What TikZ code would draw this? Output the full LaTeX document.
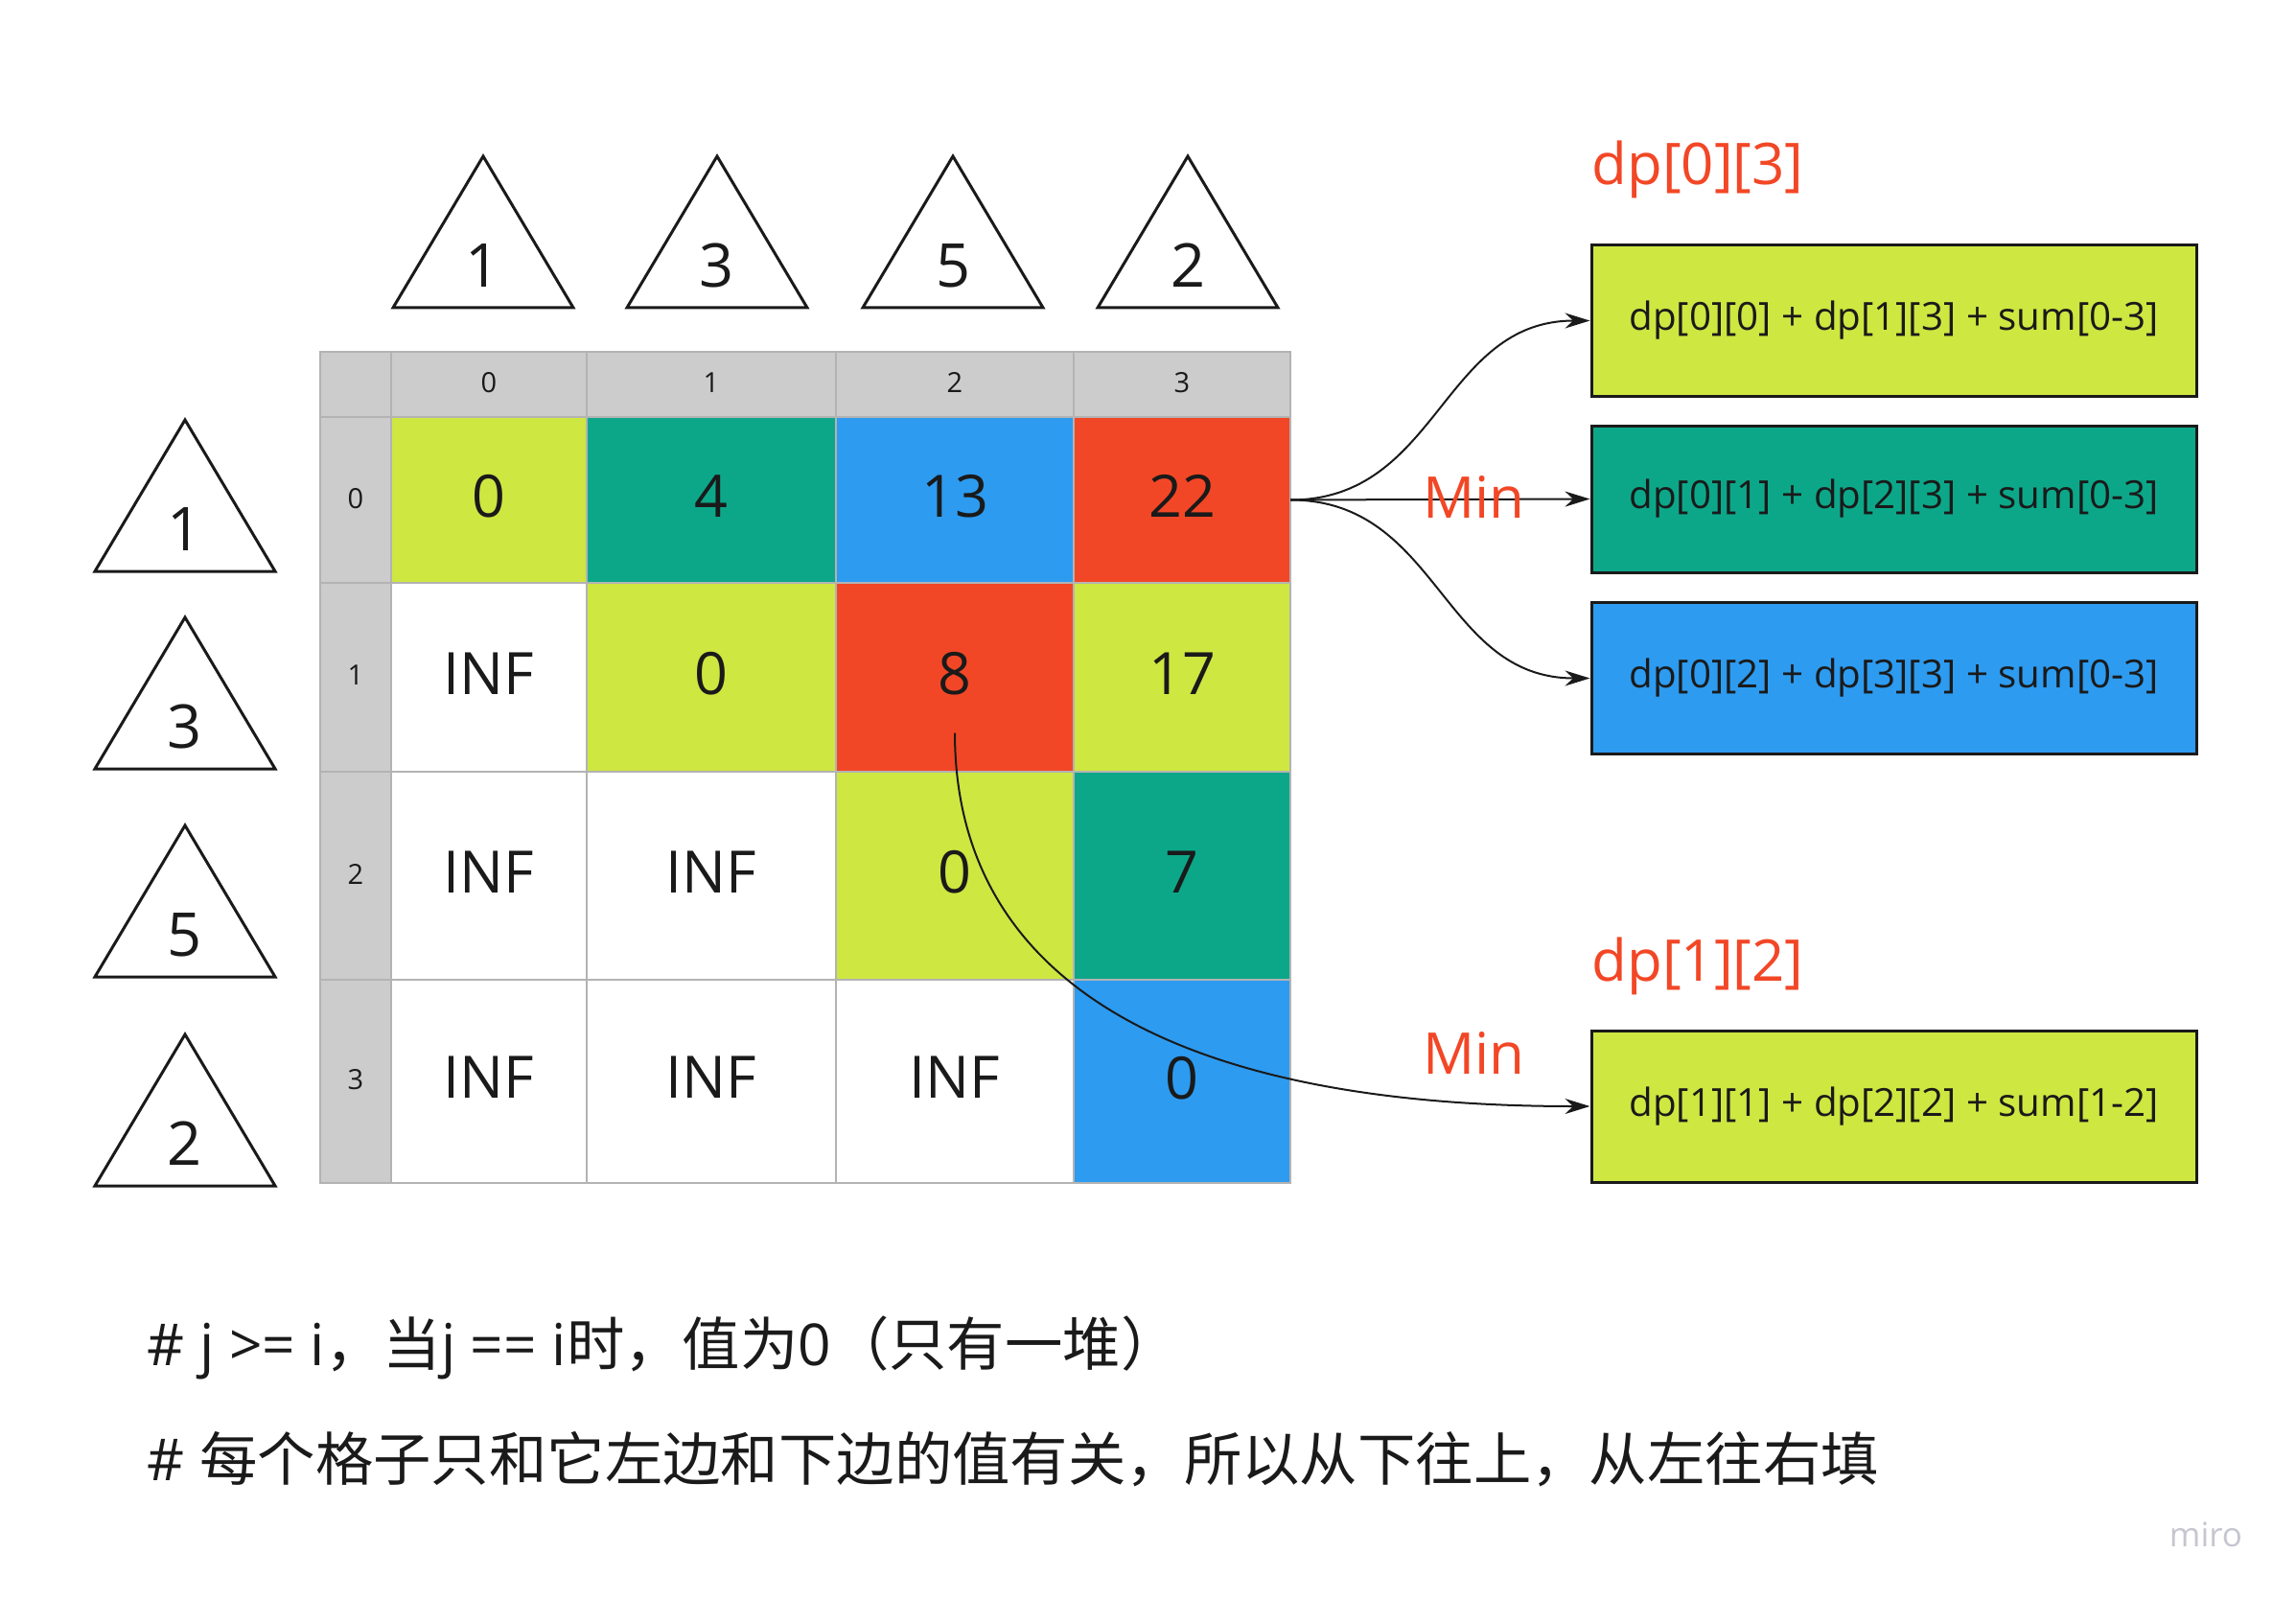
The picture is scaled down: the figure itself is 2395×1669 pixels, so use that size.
\documentclass[tikz,border=0pt]{standalone}
\usepackage{fontspec}
\setmainfont{Open Sans}
\newfontfamily\cjk{Noto Sans CJK SC}
\usepackage{xcolor}
\usepackage{tikz}
\usetikzlibrary{positioning, arrows.meta}

\definecolor{mlime}{HTML}{CEE741}
\definecolor{mteal}{HTML}{0CA789}
\definecolor{mblue}{HTML}{2D9BF0}
\definecolor{mred}{HTML}{F24726}
\definecolor{hdrgray}{HTML}{CCCCCC}
\definecolor{gridgray}{HTML}{B3B3B3}
\definecolor{ink}{HTML}{1A1A1A}
\definecolor{wmgray}{HTML}{C6C6D0}

\begin{document}
\begin{tikzpicture}[x=1pt,y=-1pt,
    cell/.style={draw=gridgray,line width=1.5pt,inner sep=0pt,outer sep=0pt,
                 text depth=8pt,text=ink,font=\fontsize{61}{70}\selectfont},
    hdr/.style={cell,fill=hdrgray,text depth=4pt,font=\fontsize{29}{34}\selectfont},
    c0/.style={minimum width=204pt}, c1/.style={minimum width=260pt},
    c2/.style={minimum width=248pt}, c3/.style={minimum width=226pt},
    r0/.style={minimum height=173pt}, r1/.style={minimum height=197pt},
    r2/.style={minimum height=217pt}, r3/.style={minimum height=212pt},
    tri/.style={draw=ink,line width=3pt},
    trinum/.style={anchor=base,text=ink,font=\fontsize{63}{70}\selectfont},
    sumbox/.style={draw=ink,line width=3pt,inner sep=0pt,minimum width=631pt,
                   minimum height=158pt,text=ink,font=\fontsize{40.3}{48}\selectfont},
    redlbl/.style={anchor=base west,text=mred,font=\fontsize{60}{70}\selectfont},
    link/.style={-{Stealth[length=26pt,width=16pt]},line width=2pt,draw=ink},
    note/.style={anchor=base west,text=ink,font=\fontsize{60.4}{70}\selectfont}]
  \useasboundingbox (0,0) rectangle (2395,1669);

  % stones along the top and the side
  \foreach \x/\n in {504/1,748/3,994/5,1239/2} {
    \draw[tri] (\x,163) -- (\x+94,321) -- (\x-94,321) -- cycle;
    \node[trinum] (top-\n) at (\x,300) {\n};
  }
  \foreach \y/\n in {596/1,802/3,1019/5,1237/2} {
    \draw[tri] (193,\y-158) -- (287,\y) -- (99,\y) -- cycle;
    \node[trinum] (side-\n) at (193,\y-22) {\n};
  }

  % dp table
  \node[hdr,minimum width=74pt,minimum height=68pt] (corner) at (371,401) {};
  \node[hdr,c0,minimum height=68pt] (h-0) at (510,401) {0};
  \node[hdr,c1,minimum height=68pt] (h-1) at (742,401) {1};
  \node[hdr,c2,minimum height=68pt] (h-2) at (996,401) {2};
  \node[hdr,c3,minimum height=68pt] (h-3) at (1233,401) {3};
  \node[hdr,minimum width=74pt,r0] (v-0) at (371,521.5) {0};
  \node[hdr,minimum width=74pt,r1] (v-1) at (371,706.5) {1};
  \node[hdr,minimum width=74pt,r2] (v-2) at (371,913.5) {2};
  \node[hdr,minimum width=74pt,r3] (v-3) at (371,1128) {3};

  \node[cell,c0,r0,fill=mlime] (c-0-0) at (510,521.5) {0};
  \node[cell,c1,r0,fill=mteal] (c-0-1) at (742,521.5) {4};
  \node[cell,c2,r0,fill=mblue] (c-0-2) at (996,521.5) {13};
  \node[cell,c3,r0,fill=mred]  (c-0-3) at (1233,521.5) {22};

  \node[cell,c0,r1,fill=white] (c-1-0) at (510,706.5) {INF};
  \node[cell,c1,r1,fill=mlime] (c-1-1) at (742,706.5) {0};
  \node[cell,c2,r1,fill=mred]  (c-1-2) at (996,706.5) {8};
  \node[cell,c3,r1,fill=mlime] (c-1-3) at (1233,706.5) {17};

  \node[cell,c0,r2,fill=white] (c-2-0) at (510,913.5) {INF};
  \node[cell,c1,r2,fill=white] (c-2-1) at (742,913.5) {INF};
  \node[cell,c2,r2,fill=mlime] (c-2-2) at (996,913.5) {0};
  \node[cell,c3,r2,fill=mteal] (c-2-3) at (1233,913.5) {7};

  \node[cell,c0,r3,fill=white] (c-3-0) at (510,1128) {INF};
  \node[cell,c1,r3,fill=white] (c-3-1) at (742,1128) {INF};
  \node[cell,c2,r3,fill=white] (c-3-2) at (996,1128) {INF};
  \node[cell,c3,r3,fill=mblue] (c-3-3) at (1233,1128) {0};

  % transitions
  \node[redlbl] (lbl-03) at (1657,193) {dp[0][3]};
  \node[sumbox,fill=mlime] (box1) at (1975.5,334.5) {dp[0][0] + dp[1][3] + sum[0-3]};
  \node[sumbox,fill=mteal,minimum height=153pt] (box2) at (1975.5,520.5) {dp[0][1] + dp[2][3] + sum[0-3]};
  \node[sumbox,fill=mblue] (box3) at (1975.5,707.5) {dp[0][2] + dp[3][3] + sum[0-3]};
  \node[redlbl] (lbl-12) at (1657,1023) {dp[1][2]};
  \node[sumbox,fill=mlime] (box4) at (1975.5,1154) {dp[1][1] + dp[2][2] + sum[1-2]};

  \draw[link] (c-0-3.east) .. controls +(155,0) and +(-155,0) .. (box1.west);
  \draw[link] (c-0-3.east) -- (box2.west);
  \draw[link] (c-0-3.east) .. controls +(155,0) and +(-155,0) .. (box3.west);
  \node[redlbl] (min-1) at (1481,540) {Min};

  \coordinate (pick) at ([yshift=-58pt]c-1-2.center);
  \draw[link] (pick) .. controls +(0,230) and +(-480,0) .. (box4.west);
  \node[redlbl] (min-2) at (1481,1120) {Min};

  % notes
  \node[note] (note-1) at (150,1424) {\# j >= i{\cjk ，当}j == i{\cjk 时，值为}0{\cjk （只有一堆）}};
  \node[note] (note-2) at (150,1544) {\# {\cjk 每个格子只和它左边和下边的值有关，所以从下往上，从左往右填}};

  \node[text=wmgray,font=\fontsize{35}{40}\selectfont] (miro) at (2301,1601) {miro};
\end{tikzpicture}
\end{document}
